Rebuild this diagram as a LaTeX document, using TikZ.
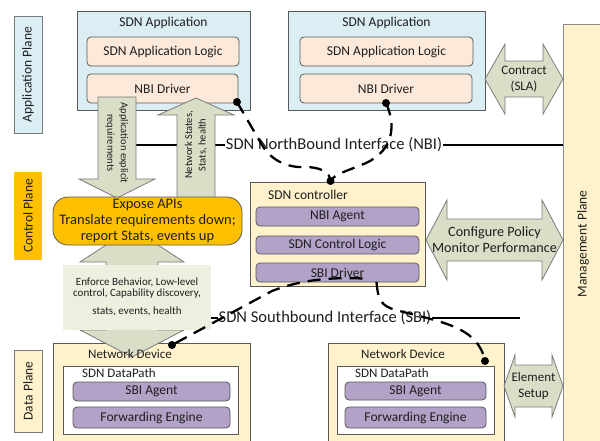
\documentclass[tikz,border=0pt]{standalone}
\usepackage{fontspec}
\setmainfont{Carlito}
\usetikzlibrary{calc}
\definecolor{appblue}{HTML}{DAEEF3}
\definecolor{peach}{HTML}{FDE9D9}
\definecolor{orng}{HTML}{FFC000}
\definecolor{lyel}{HTML}{FFF2CC}
\definecolor{purp}{HTML}{B3A2C7}
\definecolor{agray}{HTML}{D9DEC6}
\definecolor{lgreen}{HTML}{EBF1DE}
\definecolor{bord}{HTML}{595959}
\definecolor{txt}{HTML}{1F1F1F}
\newcommand\mybox[7]{\node[#6,minimum width={#4pt-#2pt},minimum height={#5pt-#3pt}] (#1) at ({(#2+#4)/2},{(#3+#5)/2}) {#7};}
\tikzset{
  base/.style={inner sep=0pt,outer sep=0pt,text=txt,font=\fontsize{13.5}{16}\selectfont},
  planelbl/.style={base,draw=bord!80,line width=0.8pt},
  outerbox/.style={base,draw=bord,line width=0.8pt},
  innerbox/.style={base,draw=bord,line width=0.8pt,rounded corners=4pt},
  bigarrow/.style={fill=agray,draw=bord!80,line width=0.8pt},
  arrtxt/.style={inner sep=0pt,text=txt,align=center,font=\fontsize{10.5}{13.5}\selectfont},
  lbl/.style={inner sep=0pt,text=txt,font=\fontsize{13.5}{16}\selectfont},
  iface/.style={fill=white,inner sep=1pt,text=txt,font=\fontsize{16.5}{19}\selectfont},
  ifline/.style={line width=2pt,black},
  dashc/.style={line width=2.3pt,black,dash pattern=on 13pt off 8pt},
  dot/.style={fill=black}
}
\begin{document}
\begin{tikzpicture}[x=1pt,y=-1pt]
\useasboundingbox (0,0) rectangle (600,440);
% plane labels
\mybox{apl}{14}{16}{42}{133}{planelbl,fill=appblue}{}
\node[lbl,rotate=90] at (apl.center) {Application Plane};
\mybox{cpl}{14}{172}{42}{260}{base,fill=orng}{}
\node[lbl,rotate=90] at (cpl.center) {Control Plane};
\mybox{dpl}{14}{350}{42}{432}{planelbl,fill=lyel}{}
\node[lbl,rotate=90] at (dpl.center) {Data Plane};
% management plane
\mybox{mgmt}{563}{24}{603}{464}{outerbox,draw=bord!70,fill=lyel}{}
\node[lbl,rotate=90] at (583,244) {Management Plane};
% applications
\mybox{app1}{77}{11}{250}{110}{outerbox,fill=appblue}{}
\node[lbl] at (163.5,23) {SDN Application};
\mybox{a1log}{87}{37}{239}{66}{innerbox,fill=peach}{SDN Application Logic}
\mybox{a1nbi}{87}{74}{238}{103}{innerbox,fill=peach}{NBI Driver}
\mybox{app2}{288}{11}{485}{110}{outerbox,fill=appblue}{}
\node[lbl] at (386.5,23) {SDN Application};
\mybox{a2log}{300}{37}{473}{66}{innerbox,fill=peach}{SDN Application Logic}
\mybox{a2nbi}{300}{74}{472}{103}{innerbox,fill=peach}{NBI Driver}
% contract arrow
\draw[bigarrow] (485,79) -- (505,44) -- (505,61) -- (543,61) -- (543,44) -- (563,79) -- (543,114) -- (543,97) -- (505,97) -- (505,114) -- cycle;
\node[arrtxt,font=\fontsize{13}{16}\selectfont] (sla) at (524,79) {Contract\\(SLA)};
% NBI line
\coordinate (nbiL) at (100,145);
\draw[ifline] (nbiL) -- (mgmt.west |- nbiL);
\node[iface] (nbi) at (334,145) {SDN NorthBound Interface (NBI)};
% down arrow
\draw[bigarrow] (98,97) -- (136,97) -- (136,179) -- (155,179) -- (117,198) -- (79,179) -- (98,179) -- cycle;
\node[arrtxt,rotate=-90] (req) at (117,143) {Application explicit\\requirements};
% up arrow
\draw[bigarrow] (196,98) -- (234,115) -- (215,115) -- (215,205) -- (177,205) -- (177,115) -- (158,115) -- cycle;
\node[arrtxt,rotate=90] (nst) at (196,145) {Network States,\\Stats, health};
% SBI line
\coordinate (sbiL) at (150,318);
\coordinate (sbiR) at (520,318);
\draw[ifline] (sbiL) -- (sbiR);
\node[iface] (sbi) at (325,318) {SDN Southbound Interface (SBI)};
% network device left
\mybox{nd1}{53}{343}{250}{446}{outerbox,fill=lyel}{}
\mybox{dp1}{63}{366}{238}{434}{outerbox,fill=white}{}
\mybox{sa1}{73}{382}{230}{401}{innerbox,fill=purp}{SBI Agent}
\mybox{fe1}{73}{407}{230}{428}{innerbox,fill=purp}{Forwarding Engine}
\node[lbl,anchor=west,font=\fontsize{13}{16}\selectfont] at (82,373) {SDN DataPath};
% vertical double arrow
\draw[bigarrow] (132,228) -- (184,262) -- (158,262) -- (158,330) -- (184,330) -- (132,357) -- (80,330) -- (106,330) -- (106,262) -- (80,262) -- cycle;
\node[lbl,font=\fontsize{13}{16}\selectfont] at (130,354) {Network Device};
\mybox{enf}{63}{265}{211}{330}{base,fill=lgreen}{}
\node[arrtxt,font=\fontsize{11}{11.5}\selectfont] at (137,288) {Enforce Behavior, Low-level\\control, Capability discovery,};
\node[arrtxt,font=\fontsize{11}{11.5}\selectfont] at (137,311) {stats, events, health};
% expose box
\mybox{exp}{53}{197}{242}{245}{base,draw=bord,line width=0.8pt,fill=orng,rounded corners=15pt,align=center,font=\fontsize{14.5}{16}\selectfont}{Expose APIs\\Translate requirements down;\\report Stats, events up}
% network device right
\mybox{nd2}{328}{343}{504}{446}{outerbox,fill=lyel}{}
\node[lbl,font=\fontsize{13}{16}\selectfont] at (403,354) {Network Device};
\mybox{dp2}{337}{366}{494}{434}{outerbox,fill=white}{}
\mybox{sa2}{345}{382}{486}{400}{innerbox,fill=purp}{SBI Agent}
\mybox{fe2}{345}{407}{486}{428}{innerbox,fill=purp}{Forwarding Engine}
\node[lbl,anchor=west,font=\fontsize{13}{16}\selectfont] at (355,373) {SDN DataPath};
% element setup
\draw[bigarrow] (504,386) -- (515,355) -- (515,365) -- (552,365) -- (552,355) -- (563,386) -- (552,417) -- (552,407) -- (515,407) -- (515,417) -- cycle;
\node[arrtxt,font=\fontsize{13}{16}\selectfont] (els) at (533.5,386) {Element\\Setup};
% controller
\mybox{ctrl}{250}{182}{425}{286}{outerbox,fill=lyel}{}
\node[lbl,anchor=west] at (268,195) {SDN controller};
\mybox{nbia}{256}{207}{419}{226}{innerbox,fill=purp}{NBI Agent}
\mybox{scl}{256}{236}{419}{254}{innerbox,fill=purp}{SDN Control Logic}
\mybox{sbid}{256}{263}{419}{282}{innerbox,fill=purp}{SBI Driver}
% configure arrow
\draw[bigarrow] (426,240) -- (447,200) -- (447,219) -- (542,219) -- (542,200) -- (563,240) -- (542,280) -- (542,261) -- (447,261) -- (447,280) -- cycle;
\node[arrtxt,font=\fontsize{14.2}{16}\selectfont] (cfg) at (494.5,240) {Configure Policy\\Monitor Performance};
% dashed connectors
\coordinate (d1) at ($(a1nbi.south east)+(-1,-1)$);
\coordinate (d2) at (a2nbi.south);
\coordinate (dc) at ($(ctrl.north)+(-7,-1)$);
\coordinate (s1) at ($(sbid.center)+(25,6)$);
\coordinate (s2) at ($(sbid.south)+(39,0)$);
\coordinate (dn1) at ($(nd1.north west)+(119,2)$);
\coordinate (dn2) at ($(nd2.north east)+(-19,18)$);
\draw[dashc] (d1) -- (262,145) .. controls (272,162) and (290,168) .. (305,167) .. controls (320,167) and (330,172) .. (dc);
\draw[dashc] (d2) .. controls (396,125) and (394,150) .. (366,163) .. controls (350,170) and (334,174) .. (dc);
\draw[dashc] (s1) .. controls (330,277) and (300,280) .. (272,291) -- (dn1);
\draw[dashc] (s2) .. controls (378,300) and (381,306) .. (396,310) .. controls (440,322) and (478,326) .. (dn2);
\fill[dot] (d1) circle (4pt);
\fill[dot] (d2) circle (4pt);
\fill[dot] (dc) circle (4pt);
\fill[dot] (dn1) circle (4pt);
\fill[dot] (dn2) circle (4pt);
\end{tikzpicture}
\end{document}
